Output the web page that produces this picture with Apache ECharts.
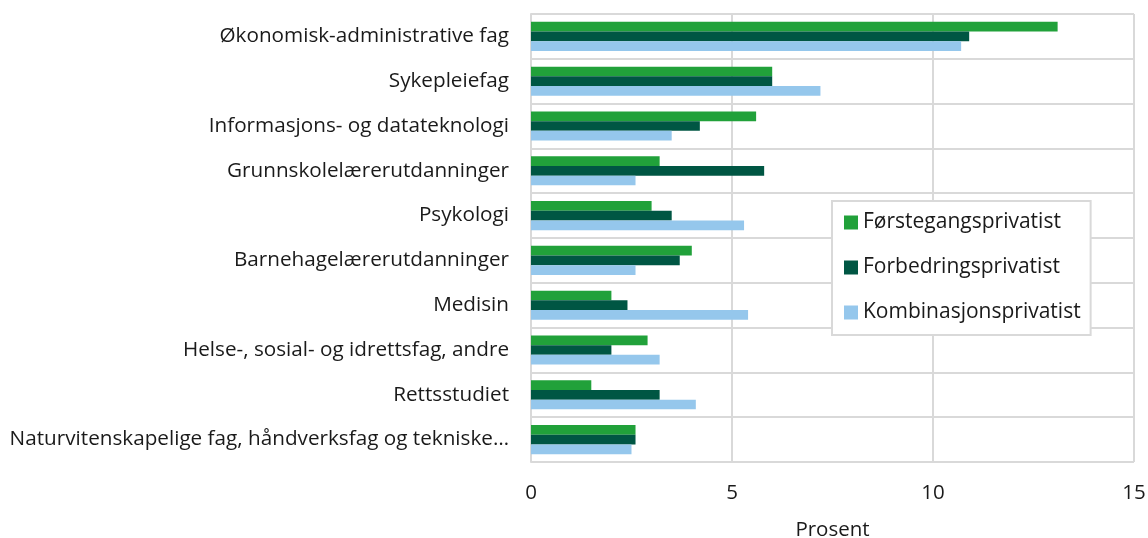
<!DOCTYPE html>
<html>
<head>
<meta charset="utf-8">
<script src="https://cdn.jsdelivr.net/npm/echarts@6/dist/echarts.min.js"></script>
<style>
  html, body { margin: 0; padding: 0; background: #fff; }
  #chart { width: 1148px; height: 538px; }
</style>
</head>
<body>
<div id="chart"></div>
<script>
// kategorier, øverst til nederst
const categories = [
  'Økonomisk-administrative fag',
  'Sykepleiefag',
  'Informasjons- og datateknologi',
  'Grunnskolelærerutdanninger',
  'Psykologi',
  'Barnehagelærerutdanninger',
  'Medisin',
  'Helse-, sosial- og idrettsfag, andre',
  'Rettsstudiet',
  'Naturvitenskapelige fag, håndverksfag og tekniske…'
]
const seriesNames = ['Førstegangsprivatist', 'Forbedringsprivatist', 'Kombinasjonsprivatist']
const forstegang = [13.1, 6.0, 5.6, 3.2, 3.0, 4.0, 2.0, 2.9, 1.5, 2.6]
const forbedring = [10.9, 6.0, 4.2, 5.8, 3.5, 3.7, 2.4, 2.0, 3.2, 2.6]
const kombinasjon = [10.7, 7.2, 3.5, 2.6, 5.3, 2.6, 5.4, 3.2, 4.1, 2.5]
const xTicks = [0, 5, 10, 15]

const colors = ['#21a13a', '#005643', '#95c7ec']
const gridColor = '#d9d9d9'
const textColor = '#1a1a1a'
const font = '"Open Sans", "Noto Sans", sans-serif'

const chart = echarts.init(document.getElementById('chart'))

const makeSeries = (name, data) => ({
  name: name,
  type: 'bar',
  data: data,
  barGap: '0%',
  barCategoryGap: '35%'
})

const option = {
  animation: false,
  color: colors,
  textStyle: { fontFamily: font, color: textColor },
  grid: { left: 531, right: 14, top: 14, bottom: 76, outerBoundsMode: 'none', containLabel: false },
  legend: {
    orient: 'vertical',
    left: 832,
    top: 201,
    padding: [11, 10, 12, 12],
    itemGap: 24,
    itemWidth: 14,
    itemHeight: 14,
    icon: 'rect',
    backgroundColor: '#fff',
    borderColor: gridColor,
    borderWidth: 2,
    textStyle: { fontSize: 21, color: textColor, fontFamily: font },
    data: seriesNames
  },
  xAxis: {
    type: 'value',
    min: xTicks[0],
    max: xTicks[xTicks.length - 1],
    interval: 5,
    name: 'Prosent',
    nameLocation: 'middle',
    nameGap: 58,
    nameTextStyle: { fontSize: 20.5, color: textColor },
    axisLine: { show: false },
    axisTick: { show: false },
    axisLabel: { fontSize: 20.5, color: textColor, margin: 21 },
    splitLine: { lineStyle: { color: gridColor, width: 2 } }
  },
  yAxis: {
    type: 'category',
    inverse: true,
    data: categories,
    axisLine: { show: true, lineStyle: { color: gridColor, width: 2 } },
    axisTick: { show: false },
    axisLabel: { fontSize: 20.7, color: textColor, margin: 22 },
    splitLine: { show: true, lineStyle: { color: gridColor, width: 2 } }
  },
  series: [
    makeSeries(seriesNames[0], forstegang),
    makeSeries(seriesNames[1], forbedring),
    makeSeries(seriesNames[2], kombinasjon)
  ]
}

chart.setOption(option)
</script>
</body>
</html>
